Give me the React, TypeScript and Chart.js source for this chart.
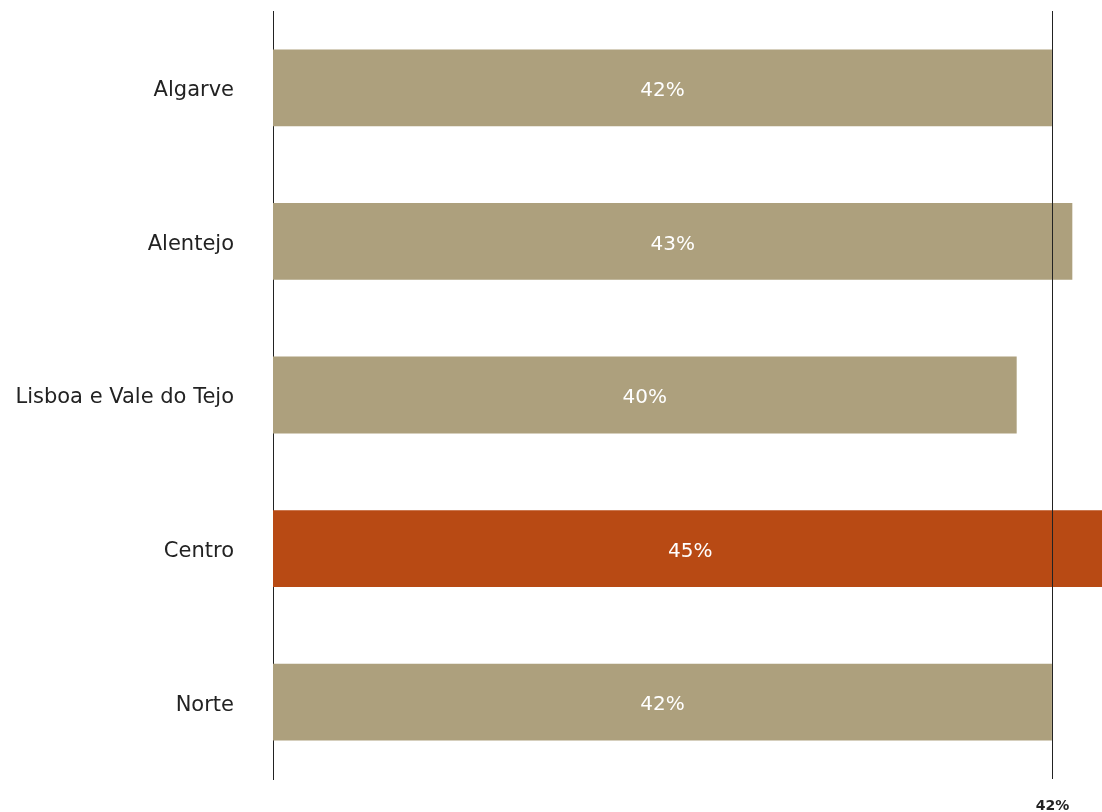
import React, { useEffect, useRef } from "react";
import { Chart, registerables } from "chart.js";

Chart.register(...registerables);

const categories = ["Algarve", "Alentejo", "Lisboa e Vale do Tejo", "Centro", "Norte"];
const values = [42, 43.1, 40.1, 45, 42];
const valueLabels = ["42%", "43%", "40%", "45%", "42%"];
const barColors = ["#ADA07D", "#ADA07D", "#ADA07D", "#B84A14", "#ADA07D"];
const referenceValue = 42;
const referenceLabel = "42%";
const axisMax = 44.7;

const FONT = "'DejaVu Sans', sans-serif";

export default function App() {
  const ref = useRef<HTMLCanvasElement | null>(null);

  useEffect(() => {
    document.body.style.margin = "0";
    const canvas = ref.current;
    if (!canvas) return;

    const valueLabelPlugin = {
      id: "valueLabels",
      afterDatasetsDraw(chart: any) {
        const ctx = chart.ctx;
        const meta = chart.getDatasetMeta(0);
        ctx.save();
        ctx.fillStyle = "#ffffff";
        ctx.font = `20px ${FONT}`;
        ctx.textAlign = "center";
        ctx.textBaseline = "middle";
        meta.data.forEach((el: any, i: number) => {
          const cx = (el.x + el.base) / 2;
          ctx.fillText(valueLabels[i], cx, el.y + 3);
        });
        ctx.restore();
      },
    };

    const refLinePlugin = {
      id: "refLine",
      afterDraw(chart: any) {
        const ctx = chart.ctx;
        const x = Math.round(chart.scales.x.getPixelForValue(referenceValue)) + 0.5;
        const { top, bottom } = chart.chartArea;
        ctx.save();
        ctx.strokeStyle = "#222222";
        ctx.lineWidth = 1;
        ctx.beginPath();
        ctx.moveTo(x, top);
        ctx.lineTo(x, bottom);
        ctx.stroke();
        ctx.fillStyle = "#222222";
        ctx.font = `bold 14px ${FONT}`;
        ctx.textAlign = "center";
        ctx.textBaseline = "middle";
        ctx.fillText(referenceLabel, x, bottom + 27);
        ctx.restore();
      },
    };

    const chart = new Chart(canvas, {
      type: "bar",
      data: {
        labels: categories,
        datasets: [
          {
            data: values,
            backgroundColor: barColors,
            borderWidth: 0,
            barPercentage: 0.5,
            categoryPercentage: 1,
          },
        ],
      },
      options: {
        indexAxis: "y",
        animation: false,
        responsive: false,
        maintainAspectRatio: false,
        layout: { padding: { top: 11, bottom: 33, left: 0, right: 0 } },
        plugins: {
          legend: { display: false },
          tooltip: { enabled: false },
        },
        scales: {
          x: {
            display: false,
            min: 0,
            max: axisMax,
          },
          y: {
            grid: { display: false, drawTicks: false },
            border: { display: true, color: "#222222", width: 1 },
            ticks: {
              padding: 39,
              labelOffset: 3,
              color: "#222222",
              font: { family: FONT, size: 21 },
            },
            afterFit(scale: any) {
              scale.width = 273;
              scale.paddingTop = 0;
              scale.paddingBottom = 0;
            },
          },
        },
      },
      plugins: [valueLabelPlugin, refLinePlugin],
    });

    return () => chart.destroy();
  }, []);

  return (
    <div style={{ width: 1102, height: 812 }}>
      <canvas ref={ref} width={1102} height={812} style={{ display: "block" }} />
    </div>
  );
}
